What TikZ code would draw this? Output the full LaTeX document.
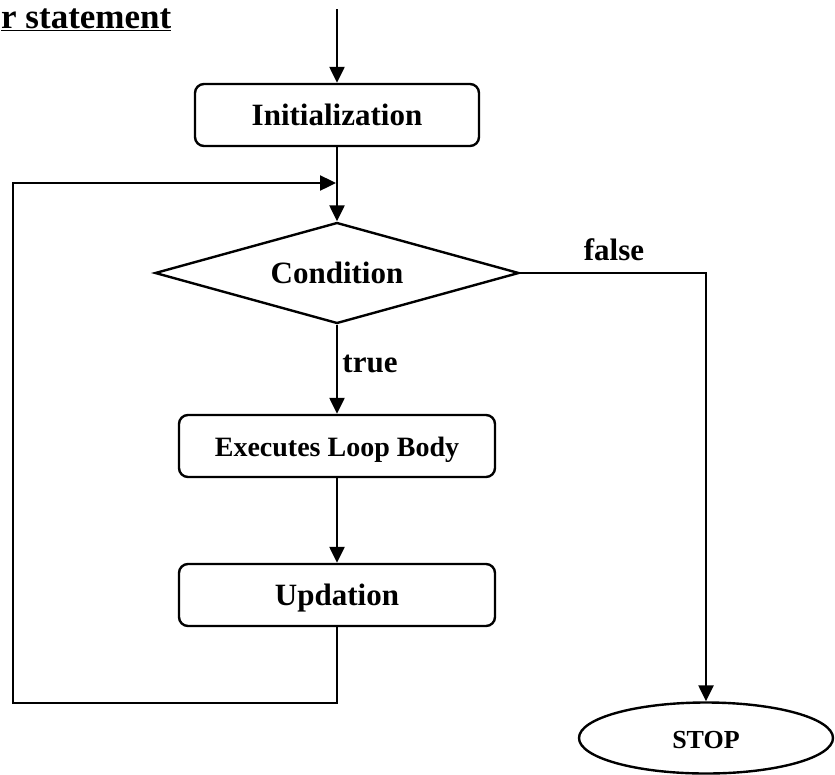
\documentclass[tikz,border=0pt]{standalone}
\usepackage{fontspec}
\setmainfont{Liberation Serif}
\usetikzlibrary{%
  arrows.meta,%
  shapes,% wg. diamond, ellipse
  positioning,%
  calc%
}

\begin{document}
\begin{tikzpicture}[
  x=1pt, y=-1pt,
  font=\bfseries\fontsize{31}{31}\selectfont,
  >={Triangle[length=16pt,width=15pt]},
  line width=2.4pt,
  stepbox/.style={draw, rounded corners=9pt, inner sep=0pt,
    minimum width=316pt, minimum height=62pt, text height=20pt, text depth=0pt},
  testbox/.style={draw, diamond, aspect=3.6, inner sep=0pt,
    minimum width=364pt, minimum height=101pt, text height=20pt, text depth=0pt},
  endbox/.style={draw, ellipse, inner sep=0pt,
    minimum width=254pt, minimum height=71pt, text height=20pt, text depth=0pt},
  lbl/.style={inner sep=0pt, anchor=base},
]
\useasboundingbox (0,0) rectangle (835,774);

\node[lbl, anchor=base west, font=\bfseries\fontsize{35}{35}\selectfont] (title) at (0,28) {\underline{r statement}};

\coordinate (entry) at (337,9);
\node[stepbox, minimum width=284pt] (init) at (337,115) {Initialization};
\node[testbox] (cond) at (337,273) {Condition};
\node[stepbox, font=\bfseries\fontsize{28}{28}\selectfont] (body) at (337,446) {Executes Loop Body};
\node[stepbox] (upd) at (337,595) {Updation};
\node[endbox, font=\bfseries\fontsize{26}{26}\selectfont] (stop) at (706,738) {STOP};

\node[lbl] (tfalse) at (614,260) {false};
\node[lbl] (ttrue) at (370,372) {true};

\coordinate (loopbl) at (13,703);
\coordinate (loopin) at (336,183);

\draw [->] (entry) -- (init.north);
\draw [->] (init.south) -- (cond.north);
\draw [->] (cond.south) -- (body.north);
\draw [->] (body.south) -- (upd.north);
\draw [->] (upd.south) |- (loopbl) |- (loopin);
\draw [->] (cond.east) -| (stop.north);

\end{tikzpicture}
\end{document}
